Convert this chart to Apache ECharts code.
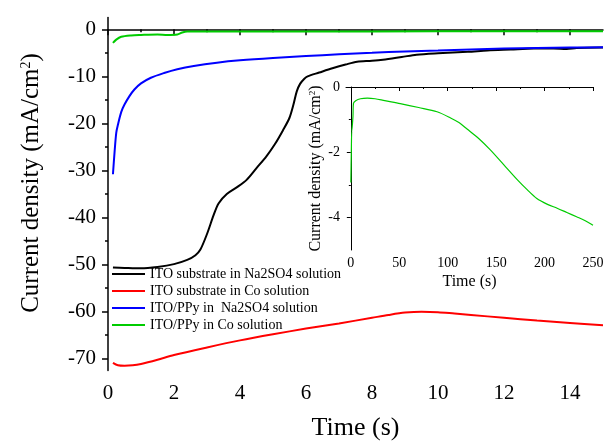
<!DOCTYPE html>
<html>
<head>
<meta charset="utf-8">
<script src="https://cdn.jsdelivr.net/npm/echarts@6.0.0/dist/echarts.min.js"></script>
<style>
  html, body { margin: 0; padding: 0; background: #fff; }
  #chart { width: 604px; height: 441px; }
</style>
</head>
<body>
<div id="chart"></div>
<script>
// main panel: time (s) and current density (mA/cm2)
const blackTime = [0.15, 0.5, 1.0, 1.5, 2.0, 2.4, 2.65, 2.8, 3.0, 3.2, 3.35, 3.6, 3.9, 4.2, 4.5, 4.8, 5.05, 5.3, 5.5, 5.62, 5.72, 5.82, 5.95, 6.05, 6.4, 6.8, 7.2, 7.55, 8.0, 8.4, 8.9, 9.35, 10.0, 10.9, 11.5, 12.2, 12.9, 13.5, 13.9, 14.2, 15.0];
const blackCurrent = [-50.6, -50.7, -50.8, -50.5, -49.9, -49.0, -48.0, -46.8, -43.5, -39.5, -37.0, -35.0, -33.6, -32.0, -29.5, -27.0, -24.5, -21.5, -18.8, -16.0, -13.2, -11.6, -10.5, -10.0, -9.2, -8.3, -7.5, -6.9, -6.7, -6.4, -5.9, -5.4, -5.1, -4.8, -4.5, -4.3, -4.1, -4.1, -4.2, -4.0, -3.9];

const redTime = [0.15, 0.3, 0.5, 0.75, 1.0, 1.5, 2.0, 3.0, 4.0, 5.0, 6.0, 7.0, 8.0, 8.5, 9.0, 9.5, 10.0, 10.5, 11.0, 12.0, 13.0, 14.0, 15.0];
const redCurrent = [-70.9, -71.4, -71.5, -71.4, -71.1, -70.2, -69.2, -67.6, -66.1, -64.8, -63.6, -62.5, -61.3, -60.7, -60.2, -60.0, -60.1, -60.4, -60.7, -61.3, -61.9, -62.4, -62.9];

const blueTime = [0.15, 0.2, 0.25, 0.3, 0.4, 0.5, 0.65, 0.8, 1.0, 1.3, 1.7, 2.1, 2.6, 3.3, 4.0, 5.0, 6.0, 7.0, 8.0, 9.0, 10.0, 11.0, 12.0, 13.0, 14.0, 15.0];
const blueCurrent = [-30.8, -26.0, -22.0, -20.3, -17.6, -16.0, -14.2, -12.8, -11.5, -10.3, -9.3, -8.5, -7.8, -7.1, -6.6, -6.1, -5.7, -5.3, -5.0, -4.7, -4.5, -4.3, -4.1, -4.0, -3.9, -3.8];

const greenTime = [0.15, 0.25, 0.4, 0.7, 1.0, 1.5, 1.8, 2.1, 2.25, 2.4, 4.0, 8.0, 12.0, 15.0];
const greenCurrent = [-2.9, -2.2, -1.6, -1.3, -1.2, -1.1, -1.2, -1.1, -0.7, -0.5, -0.45, -0.45, -0.4, -0.4];

const seriesNames = ['ITO substrate in Na2SO4 solution', 'ITO substrate in Co solution', 'ITO/PPy in  Na2SO4 solution', 'ITO/PPy in Co solution'];

// inset: ITO/PPy in Co solution over 250 s
const insetTime = [0, 0.5, 1, 1.7, 2.2, 2.7, 5, 10, 17, 25, 35, 51, 70, 89, 103, 112, 120, 132, 144, 158, 172, 182, 192, 203, 213, 223, 233, 242, 250];
const insetCurrent = [-2.93, -2.0, -1.35, -1.35, -0.9, -0.5, -0.42, -0.36, -0.34, -0.36, -0.42, -0.51, -0.63, -0.76, -0.95, -1.1, -1.29, -1.58, -1.93, -2.39, -2.85, -3.15, -3.42, -3.6, -3.72, -3.85, -3.98, -4.1, -4.24];

const xMajorTicks = [0, 2, 4, 6, 8, 10, 12, 14];
const xMinorTicks = [1, 3, 5, 7, 9, 11, 13];
const yMajorTicks = [-70, -60, -50, -40, -30, -20, -10, 0];
const yMinorTicks = [-65, -55, -45, -35, -25, -15, -5];
const insetXMajorTicks = [0, 50, 100, 150, 200, 250];
const insetXMinorTicks = [25, 75, 125, 175, 225];
const insetYMajorTicks = [-4, -2, 0];
const insetYMinorTicks = [-3, -1];

const font = 'Liberation Serif';
const pairs = (xs, ys) => xs.map((x, i) => [x, ys[i]]);

const chart = echarts.init(document.getElementById('chart'));

const majorAxis = (grid, min, max, ticks, pos, lineWidth, fontSize, margin, tickLen) => ({
  type: 'value',
  gridIndex: grid,
  min: min,
  max: max,
  position: pos,
  axisLine: { show: true, lineStyle: { color: '#000', width: lineWidth } },
  axisTick: { show: true, inside: false, length: tickLen, customValues: ticks, lineStyle: { color: '#000', width: lineWidth } },
  axisLabel: { customValues: ticks, color: '#000', fontFamily: font, fontSize: fontSize, margin: margin },
  splitLine: { show: false }
});

const minorAxis = (grid, min, max, ticks, pos, lineWidth, tickLen) => ({
  type: 'value',
  gridIndex: grid,
  min: min,
  max: max,
  position: pos,
  axisLine: { show: false },
  axisTick: { show: true, inside: false, length: tickLen, customValues: ticks, lineStyle: { color: '#000', width: lineWidth } },
  axisLabel: { show: false },
  splitLine: { show: false }
});

const mainX = majorAxis(0, 0, 15, xMajorTicks, 'bottom', 1.5, 21, 12, 6);
mainX.name = 'Time (s)';
mainX.nameLocation = 'middle';
mainX.nameGap = 45;
mainX.nameTextStyle = { color: '#000', fontFamily: font, fontSize: 26 };

const mainY = majorAxis(0, -72.5, 2.5, yMajorTicks, 'left', 1.5, 21, 12, 6);
mainY.name = 'Current density (mA/cm{sup|2})';
mainY.nameLocation = 'middle';
mainY.nameGap = 64;
mainY.nameTextStyle = { color: '#000', fontFamily: font, fontSize: 25, padding: [0, 0, 0, 22], rich: { sup: { fontSize: 14, fontFamily: font, color: '#000', verticalAlign: 'top' } } };

const insetX = majorAxis(1, -5, 250, insetXMajorTicks, 'bottom', 1, 14, 6, 4);
insetX.name = 'Time (s)';
insetX.nameLocation = 'middle';
insetX.nameGap = 24;
insetX.nameTextStyle = { color: '#000', fontFamily: font, fontSize: 16 };

const insetY = majorAxis(1, -5, 0, insetYMajorTicks, 'left', 1, 14, 6, 4);
insetY.name = 'Current density (mA/cm{sup|2})';
insetY.nameLocation = 'middle';
insetY.nameGap = 22;
insetY.nameTextStyle = { color: '#000', fontFamily: font, fontSize: 16, rich: { sup: { fontSize: 9, fontFamily: font, color: '#000', verticalAlign: 'top' } } };

const lineSeries = (name, xs, ys, color) => ({
  name: name,
  type: 'line',
  xAxisIndex: 0,
  yAxisIndex: 0,
  data: pairs(xs, ys),
  symbol: 'none',
  smooth: 0.3,
  lineStyle: { color: color, width: 2 },
  itemStyle: { color: color }
});

chart.setOption({
  animation: false,
  backgroundColor: '#fff',
  grid: [
    { left: 108, right: 1, top: 17.5, bottom: 70.5, outerBoundsMode: 'none' },
    { left: 346, right: 11, top: 87, bottom: 191, outerBoundsMode: 'none' }
  ],
  legend: {
    data: seriesNames,
    orient: 'vertical',
    left: 112,
    top: 267,
    padding: 0,
    icon: 'rect',
    itemWidth: 33,
    itemHeight: 2,
    itemGap: 3,
    textStyle: { color: '#000', fontFamily: font, fontSize: 14, lineHeight: 14 }
  },
  xAxis: [
    mainX,
    minorAxis(0, 0, 15, xMinorTicks, 'bottom', 1.5, 3),
    insetX,
    minorAxis(1, -5, 250, insetXMinorTicks, 'bottom', 1, 2)
  ],
  yAxis: [
    mainY,
    minorAxis(0, -72.5, 2.5, yMinorTicks, 'left', 1.5, 3),
    insetY,
    minorAxis(1, -5, 0, insetYMinorTicks, 'left', 1, 2)
  ],
  series: [
    lineSeries(seriesNames[0], blackTime, blackCurrent, '#000000'),
    lineSeries(seriesNames[1], redTime, redCurrent, '#ff0000'),
    lineSeries(seriesNames[2], blueTime, blueCurrent, '#0000ff'),
    lineSeries(seriesNames[3], greenTime, greenCurrent, '#00cc00'),
    {
      name: 'inset',
      type: 'line',
      xAxisIndex: 2,
      yAxisIndex: 2,
      data: pairs(insetTime, insetCurrent),
      symbol: 'none',
      smooth: 0.3,
      lineStyle: { color: '#00cc00', width: 1.2 }
    }
  ]
});
</script>
</body>
</html>
